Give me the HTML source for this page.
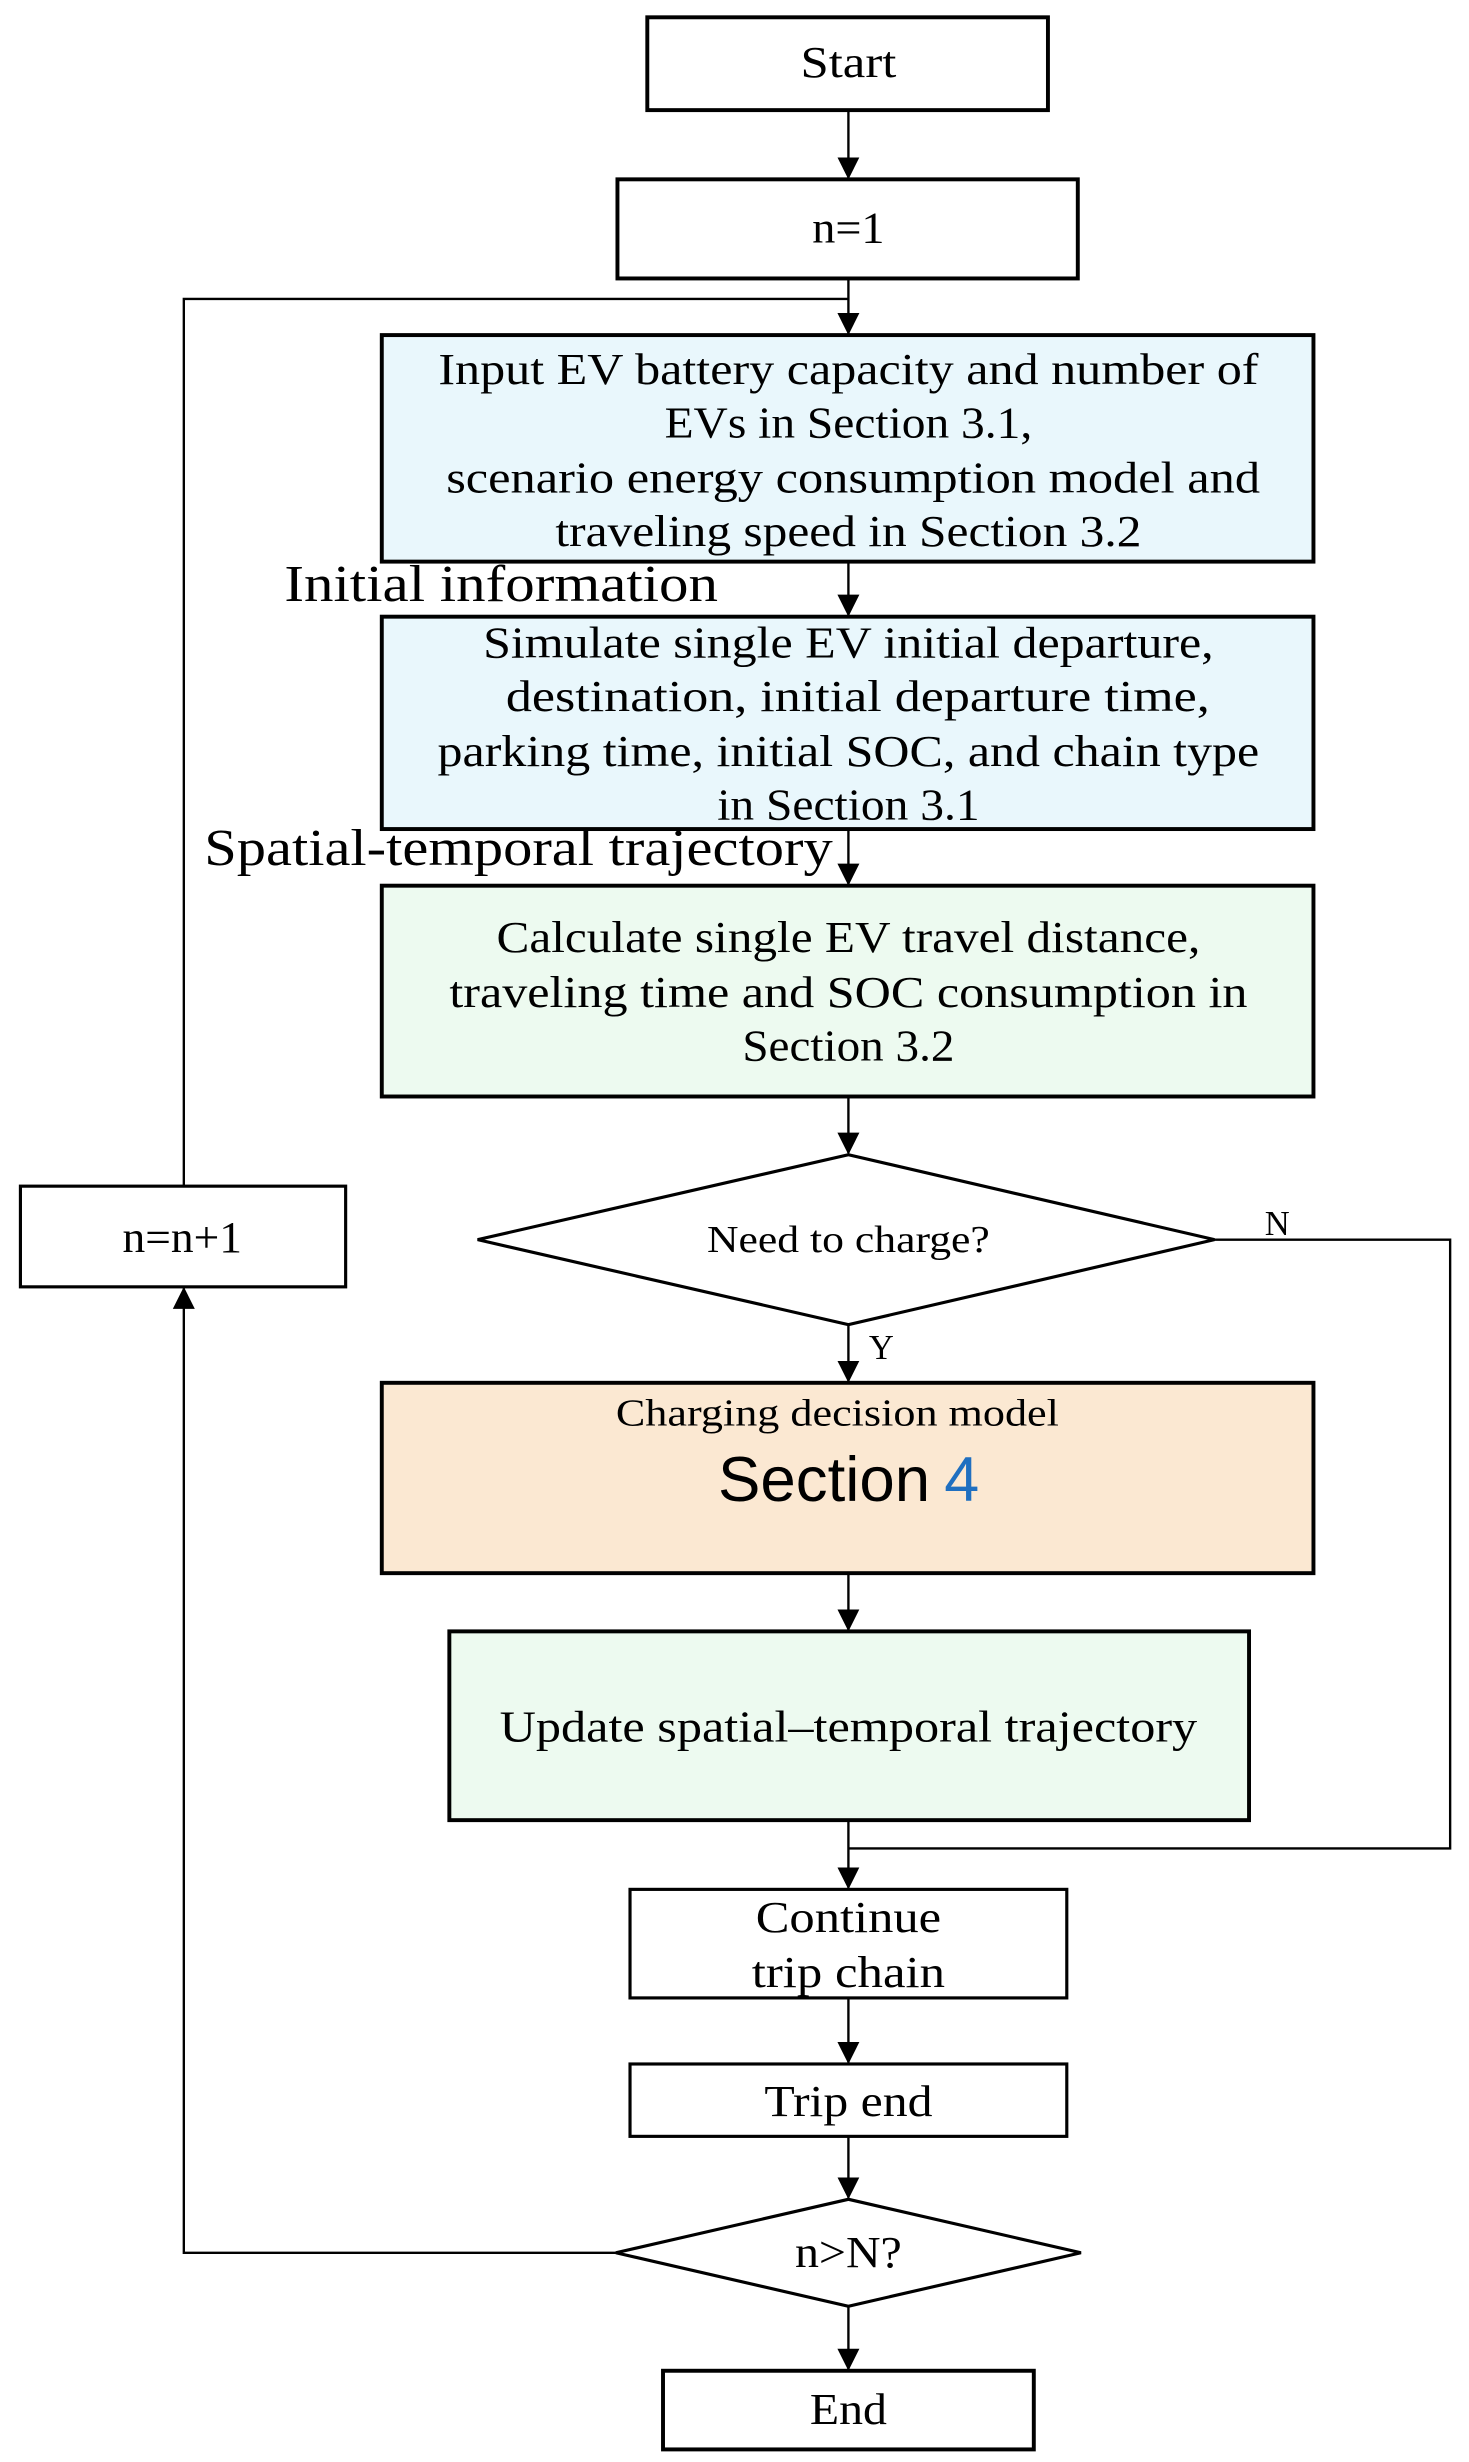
<!DOCTYPE html>
<html><head><meta charset="utf-8"><style>
html,body{margin:0;padding:0;background:#fff}
svg{display:block}
text{font-family:"Liberation Serif",serif;fill:#000}
</style></head><body>
<svg width="1469" height="2462" viewBox="0 0 935 1565" preserveAspectRatio="none" xmlns="http://www.w3.org/2000/svg">
<defs>
<marker id="a" markerWidth="14" markerHeight="16" refX="13" refY="8" orient="auto" markerUnits="userSpaceOnUse" viewBox="0 0 14 16"><path d="M0,1 L14,8 L0,15 z" fill="#000"/></marker>
</defs>
<g fill="none" stroke="#000" stroke-width="1.5">
<line x1="540" y1="70" x2="540" y2="113" marker-end="url(#a)"/>
<line x1="540" y1="177" x2="540" y2="212" marker-end="url(#a)"/>
<polyline points="117,754 117,190 540,190"/>
<line x1="540" y1="357" x2="540" y2="391" marker-end="url(#a)"/>
<line x1="540" y1="527" x2="540" y2="562" marker-end="url(#a)"/>
<line x1="540" y1="697" x2="540" y2="733" marker-end="url(#a)"/>
<line x1="540" y1="842" x2="540" y2="878" marker-end="url(#a)"/>
<line x1="540" y1="1000" x2="540" y2="1036" marker-end="url(#a)"/>
<polyline points="773,788 923,788 923,1175 540,1175"/>
<line x1="540" y1="1157" x2="540" y2="1200" marker-end="url(#a)"/>
<line x1="540" y1="1270" x2="540" y2="1311" marker-end="url(#a)"/>
<line x1="540" y1="1358" x2="540" y2="1397" marker-end="url(#a)"/>
<line x1="540" y1="1466" x2="540" y2="1506" marker-end="url(#a)"/>
<polyline points="392,1432 117,1432 117,819" marker-end="url(#a)"/>
</g>
<g stroke="#000" stroke-width="2.5">
<rect x="412" y="11" width="255" height="59" fill="#fff"/>
<rect x="393" y="114" width="293" height="63" fill="#fff"/>
<rect x="243" y="213" width="593" height="144" fill="#e9f7fc"/>
<rect x="243" y="392" width="593" height="135" fill="#e9f7fc"/>
<rect x="243" y="563" width="593" height="134" fill="#edfaf0"/>
<polygon points="304,788 540,734 773,788 540,842" fill="#fff" stroke-width="2"/>
<rect x="243" y="879" width="593" height="121" fill="#fbe8d2"/>
<rect x="286" y="1037" width="509" height="120" fill="#edfaf0"/>
<rect x="401" y="1201" width="278" height="69" fill="#fff" stroke-width="2"/>
<rect x="401" y="1312" width="278" height="46" fill="#fff" stroke-width="2"/>
<polygon points="392,1432 540,1398 688,1432 540,1466" fill="#fff" stroke-width="2"/>
<rect x="422" y="1507" width="236" height="50" fill="#fff"/>
<rect x="13" y="754" width="207" height="64" fill="#fff" stroke-width="2"/>
</g>
<g font-size="28" text-anchor="middle" lengthAdjust="spacingAndGlyphs">
<text x="540" y="49" textLength="61" lengthAdjust="spacingAndGlyphs">Start</text>
<text x="540" y="154" textLength="46" lengthAdjust="spacingAndGlyphs">n=1</text>
<text x="540" y="244" textLength="522" lengthAdjust="spacingAndGlyphs">Input EV battery capacity and number of</text>
<text x="540" y="278" textLength="234" lengthAdjust="spacingAndGlyphs">EVs in Section 3.1,</text>
<text x="543" y="313" textLength="518" lengthAdjust="spacingAndGlyphs">scenario energy consumption model and</text>
<text x="540" y="347" textLength="373" lengthAdjust="spacingAndGlyphs">traveling speed in Section 3.2</text>
<text x="540" y="418" textLength="465" lengthAdjust="spacingAndGlyphs">Simulate single EV initial departure,</text>
<text x="546" y="452" textLength="448" lengthAdjust="spacingAndGlyphs">destination, initial departure time,</text>
<text x="540" y="487" textLength="523" lengthAdjust="spacingAndGlyphs">parking time, initial SOC, and chain type</text>
<text x="540" y="521" textLength="167" lengthAdjust="spacingAndGlyphs">in Section 3.1</text>
<text x="540" y="605" textLength="448" lengthAdjust="spacingAndGlyphs">Calculate single EV travel distance,</text>
<text x="540" y="640" textLength="508" lengthAdjust="spacingAndGlyphs">traveling time and SOC consumption in</text>
<text x="540" y="674" textLength="135" lengthAdjust="spacingAndGlyphs">Section 3.2</text>
<text x="540" y="1107" textLength="444" lengthAdjust="spacingAndGlyphs">Update spatial–temporal trajectory</text>
<text x="540" y="1228" textLength="118" lengthAdjust="spacingAndGlyphs">Continue</text>
<text x="540" y="1263" textLength="123" lengthAdjust="spacingAndGlyphs">trip chain</text>
<text x="540" y="1345" textLength="107" lengthAdjust="spacingAndGlyphs">Trip end</text>
<text x="540" y="1441" textLength="68" lengthAdjust="spacingAndGlyphs">n&gt;N?</text>
<text x="540" y="1541" textLength="49" lengthAdjust="spacingAndGlyphs">End</text>
<text x="116" y="796" textLength="76" lengthAdjust="spacingAndGlyphs">n=n+1</text>
</g>
<text x="181" y="382" font-size="33" textLength="276" lengthAdjust="spacingAndGlyphs">Initial information</text>
<text x="130" y="550" font-size="33" textLength="400" lengthAdjust="spacingAndGlyphs">Spatial-temporal trajectory</text>
<text x="540" y="796" font-size="24" text-anchor="middle" textLength="180" lengthAdjust="spacingAndGlyphs">Need to charge?</text>
<text x="533" y="906" font-size="24" text-anchor="middle" textLength="282" lengthAdjust="spacingAndGlyphs">Charging decision model</text>
<text x="457" y="954" font-size="40" style="font-family:'Liberation Sans',sans-serif" textLength="135" lengthAdjust="spacingAndGlyphs">Section</text>
<text x="601" y="954" font-size="40" style="font-family:'Liberation Sans',sans-serif;fill:#1f6fc0">4</text>
<text x="805" y="785" font-size="22">N</text>
<text x="553" y="864" font-size="22">Y</text>
</svg>
</body></html>
